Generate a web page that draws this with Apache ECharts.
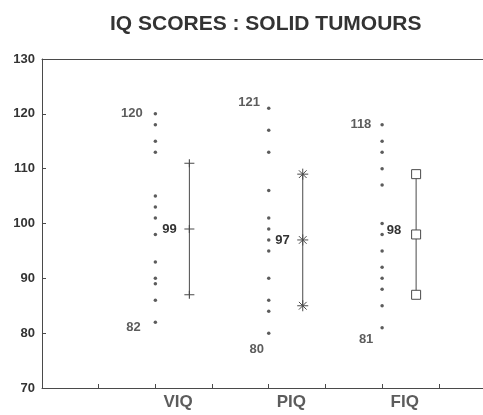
<!DOCTYPE html>
<html>
<head>
<meta charset="utf-8">
<script src="https://cdn.jsdelivr.net/npm/echarts@6/dist/echarts.min.js"></script>
<style>
html, body { margin: 0; padding: 0; background: #fff; }
#chart { width: 483px; height: 415px; }
</style>
</head>
<body>
<div id="chart"></div>
<script>
// IQ scores, solid tumours
var categories = ['VIQ', 'PIQ', 'FIQ'];
var catPos = [2, 4, 6];
var viqScores = [120, 118, 115, 113, 105, 103, 101, 98, 93, 90, 89, 86, 82];
var piqScores = [121, 117, 113, 106, 101, 99, 97, 95, 90, 86, 84, 80];
var fiqScores = [118, 115, 113, 110, 107, 100, 98, 95, 92, 90, 88, 85, 81];
var means = [99, 97, 98];
var upper = [111, 109, 109];
var lower = [87, 85, 87];
var yTicks = [70, 80, 90, 100, 110, 120, 130];

var allScores = [viqScores, piqScores, fiqScores];
var ink = '#333';
var lineCol = '#4a4a4a';

// little label nudges, per column
var maxOff = [[-4, 0], [0, -6], [-2, 0]];
var minOff = [[-6, 5], [4, 16], [0, 12]];
var meanOff = [[0, 0], [0, 0], [-3, -4]];
var markSymbols = [
    'path://M0 5L10 5M5 0L5 10',
    'path://M5 0L5 10M0 5L10 5M1.5 1.5L8.5 8.5M8.5 1.5L1.5 8.5',
    'rect'
];
var markSizes = [[10, 8], 11, 9];

var chart = echarts.init(document.getElementById('chart'));

var labelFont = {
    fontFamily: 'Liberation Sans, Arial, sans-serif',
    fontWeight: 'bold',
    fontSize: 13,
    color: ink
};

var series = [];
allScores.forEach(function (scores, i) {
    var hi = Math.max.apply(null, scores);
    var lo = Math.min.apply(null, scores);
    series.push({
        type: 'scatter',
        symbol: 'circle',
        symbolSize: 3.5,
        itemStyle: { color: ink },
        silent: true,
        data: scores.map(function (v) {
            var d = { value: [catPos[i], v] };
            if (v === hi || v === lo) {
                d.label = Object.assign({
                    show: true,
                    position: 'left',
                    distance: 7,
                    offset: v === hi ? maxOff[i] : minOff[i],
                    formatter: String(v)
                }, labelFont);
            }
            return d;
        })
    });
    var bx = catPos[i] + 0.6;
    series.push({
        type: 'line',
        symbol: markSymbols[i],
        symbolSize: markSizes[i],
        showAllSymbol: true,
        lineStyle: { color: lineCol, width: 1 },
        itemStyle: {
            color: i === 2 ? '#fff' : 'transparent',
            borderColor: lineCol,
            borderWidth: 1
        },
        silent: true,
        z: 3,
        data: [
            { value: [bx, lower[i]] },
            {
                value: [bx, means[i]],
                label: Object.assign({
                    show: true,
                    position: 'left',
                    distance: 7,
                    offset: meanOff[i],
                    formatter: String(means[i])
                }, labelFont)
            },
            { value: [bx, upper[i]] }
        ]
    });
});

// category names under the axis
series.push({
    type: 'scatter',
    symbolSize: 0,
    silent: true,
    label: {
        show: true,
        position: 'bottom',
        distance: 6,
        fontFamily: 'Liberation Sans, Arial, sans-serif',
        fontWeight: 'bold',
        fontSize: 17,
        color: ink,
        formatter: function (p) { return categories[p.dataIndex]; }
    },
    data: catPos.map(function (x) { return [x + 0.4, yTicks[0]]; })
});

var option = {
    animation: false,
    backgroundColor: '#fff',
    title: {
        text: 'IQ SCORES : SOLID TUMOURS',
        left: 105,
        top: 9,
        textStyle: {
            fontFamily: 'Liberation Sans, Arial, sans-serif',
            fontWeight: 'bold',
            fontSize: 21,
            color: ink
        }
    },
    grid: { left: 42, right: 0, top: 59, bottom: 27 },
    xAxis: [
        {
            type: 'value',
            min: 0,
            max: 7.78,
            interval: 1,
            position: 'bottom',
            axisLine: { lineStyle: { color: lineCol, width: 1 } },
            axisTick: { show: true, inside: true, length: 4, lineStyle: { color: lineCol } },
            axisLabel: { show: false },
            splitLine: { show: false }
        },
        {
            type: 'value',
            min: 0,
            max: 7.78,
            position: 'top',
            axisLine: { show: true, lineStyle: { color: lineCol, width: 1 } },
            axisTick: { show: false },
            axisLabel: { show: false },
            splitLine: { show: false }
        }
    ],
    yAxis: {
        type: 'value',
        min: yTicks[0],
        max: yTicks[yTicks.length - 1],
        interval: 10,
        axisLine: { show: true, lineStyle: { color: lineCol, width: 1 } },
        axisTick: { show: true, inside: true, length: 4, lineStyle: { color: lineCol } },
        axisLabel: Object.assign({ margin: 7 }, labelFont),
        splitLine: { show: false }
    },
    series: series
};

chart.setOption(option);
</script>
</body>
</html>
